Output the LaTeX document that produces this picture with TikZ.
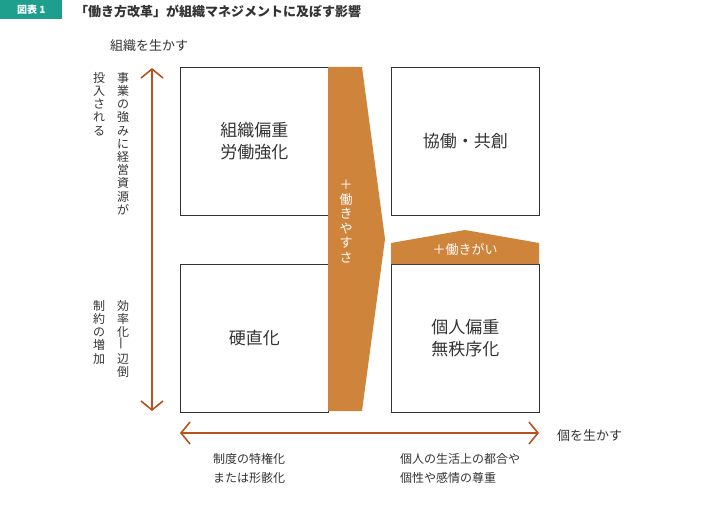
\documentclass[tikz,border=0pt]{standalone}
\usepackage{fontspec}
\setmainfont{Noto Sans CJK JP}
\definecolor{arrcol}{HTML}{B9531E}
\definecolor{barfill}{HTML}{CF843C}
\definecolor{tagcol}{HTML}{1E9E8C}
\definecolor{txt}{HTML}{333333}
\usetikzlibrary{arrows.meta}
\tikzset{
 qbox/.style={draw=txt,line width=0.8pt,minimum width=148pt,minimum height=148pt,anchor=north west,inner sep=0pt,align=center,font=\fontsize{17}{22}\selectfont,text=txt},
 dbl/.style={arrcol,line width=1.6pt,{Straight Barb[length=9pt,width=22pt,line width=1.6pt]}-{Straight Barb[length=9pt,width=22pt,line width=1.6pt]}},
 vtxt/.style={anchor=north,align=center,font=\fontsize{12}{13.2}\selectfont,text=txt,inner sep=0pt},
 lbl/.style={font=\fontsize{12}{19}\selectfont,text=txt,align=left,anchor=north west,inner sep=0pt}
}
\begin{document}
\begin{tikzpicture}[x=1pt,y=-1pt]
\useasboundingbox (0,0) rectangle (728,505);
\node[fill=tagcol,minimum width=62pt,minimum height=19pt,anchor=north west,inner sep=0pt,text=white,font=\fontsize{10}{12}\selectfont\bfseries] (tag) at (0,0) {図表 1};
\node[anchor=west,inner sep=0pt,font=\fontsize{13}{15}\selectfont\bfseries,text=txt] (title) at (75,11) {「働き方改革」が組織マネジメントに及ぼす影響};
\node[anchor=west,inner sep=0pt,font=\fontsize{13}{15}\selectfont,text=txt] (ytitle) at (110,46) {組織を生かす};
\node[qbox] (tl) at (180,67) {組織偏重\\労働強化};
\node[qbox] (bl) at (180,264) {硬直化};
\node[qbox] (tr) at (391,67) {協働・共創};
\node[qbox] (br) at (391,264) {個人偏重\\無秩序化};
\fill[barfill] (328,67) -- (362,67) -- (385,239) -- (362,411) -- (328,411) -- cycle;
\node[vtxt,text=white,font=\fontsize{13}{14.5}\selectfont] (yasusa) at (346,180) {＋\\働\\き\\や\\す\\さ};
\fill[barfill] (391,264) -- (391,243) -- (465,230) -- (539,243) -- (539,264) -- cycle;
\node[text=white,inner sep=0pt,font=\fontsize{13}{15}\selectfont] (gai) at (465,250) {＋働きがい};
\coordinate (vt) at (152,68);
\coordinate (vb) at (152,411);
\draw[dbl] (vt) -- (vb);
\coordinate (hl) at (180,433);
\coordinate (hr) at (539,433);
\draw[dbl] (hl) -- (hr);
\node[anchor=west,inner sep=0pt,font=\fontsize{13}{15}\selectfont,text=txt] (xtitle) at (557,436) {個を生かす};
\node[vtxt] (v1) at (123,72) {事\\業\\の\\強\\み\\に\\経\\営\\資\\源\\が};
\node[vtxt] (v2) at (99,72) {投\\入\\さ\\れ\\る};
\node[vtxt] (v3) at (123,300) {効\\率\\化\\\rotatebox{90}{一}\\辺\\倒};
\node[vtxt] (v4) at (99,300) {制\\約\\の\\増\\加};
\node[lbl] (b1) at (213,453) {制度の特権化\\または形骸化};
\node[lbl] (b2) at (400,453) {個人の生活上の都合や\\個性や感情の尊重};
\end{tikzpicture}
\end{document}
